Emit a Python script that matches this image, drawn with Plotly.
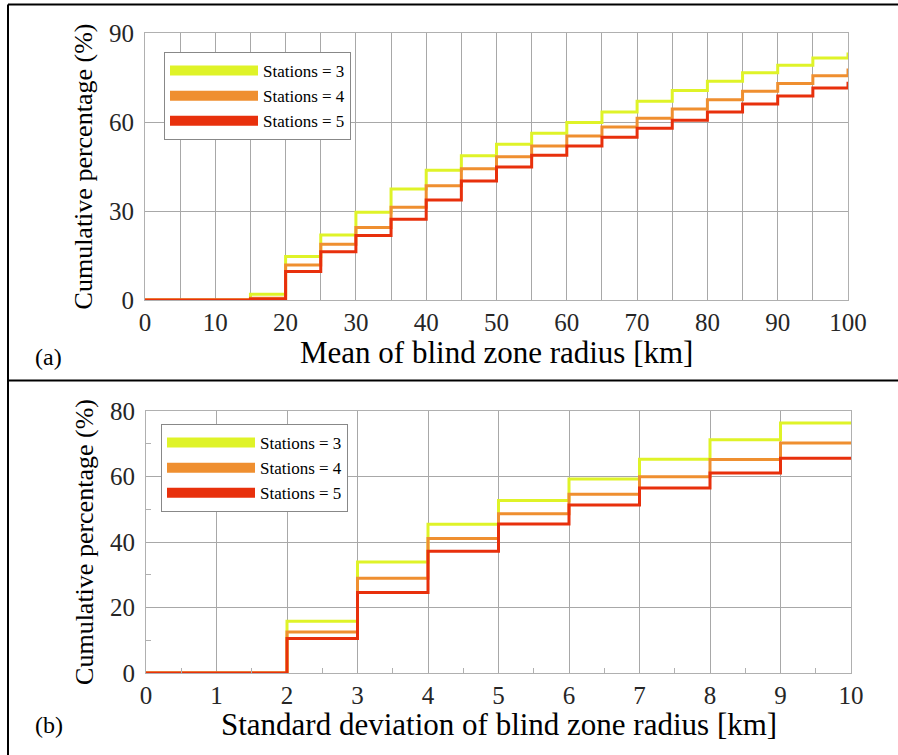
import plotly.graph_objects as go

# ---- data ----
mean_x = [0, 5, 10, 15, 20, 25, 30, 35, 40, 45, 50, 55, 60, 65, 70, 75, 80, 85, 90, 95, 100]
mean_s3 = [0, 0, 0, 1.9, 14.7, 21.9, 29.6, 37.4, 43.7, 48.6, 52.5, 56.2, 59.8, 63.4, 67.0, 70.6, 73.7, 76.6, 79.1, 81.6, 83.4]
mean_s4 = [0, 0, 0, 0.6, 11.8, 18.8, 24.4, 31.3, 38.5, 44.2, 48.3, 51.9, 55.3, 58.3, 61.3, 64.4, 67.5, 70.4, 73.0, 75.6, 78.0]
mean_s5 = [0, 0, 0, 0.3, 9.6, 16.3, 21.7, 27.2, 33.7, 40.1, 44.8, 48.8, 51.9, 54.9, 57.9, 60.6, 63.4, 66.1, 68.8, 71.5, 73.6]

std_x = [0, 1, 2, 3, 4, 5, 6, 7, 8, 9, 10]
std_s3 = [0, 0, 15.8, 33.9, 45.4, 52.7, 59.2, 65.3, 71.2, 76.3, 76.3]
std_s4 = [0, 0, 12.5, 28.9, 41.1, 48.6, 54.6, 59.9, 65.2, 70.2, 70.2]
std_s5 = [0, 0, 10.5, 24.6, 37.2, 45.5, 51.3, 56.5, 61.1, 65.6, 65.6]

names = ["Stations = 3", "Stations = 4", "Stations = 5"]
colors = ["#dff328", "#ef8f30", "#e8300c"]
xtitle_a = "Mean of blind zone radius [km]"
xtitle_b = "Standard deviation of blind zone radius [km]"
ytitle = "Cumulative percentage (%)"

W, H = 898, 755
FONT = "'Liberation Serif', 'DejaVu Serif', serif"

fig = go.Figure()

for ys, nm, c in zip([mean_s3, mean_s4, mean_s5], names, colors):
    fig.add_trace(go.Scatter(x=mean_x, y=ys, mode="lines", name=nm, showlegend=False,
                             line=dict(color=c, width=3, shape="hv"),
                             xaxis="x", yaxis="y"))
for ys, nm, c in zip([std_s3, std_s4, std_s5], names, colors):
    fig.add_trace(go.Scatter(x=std_x, y=ys, mode="lines", name=nm, showlegend=False,
                             line=dict(color=c, width=3, shape="hv"),
                             xaxis="x2", yaxis="y2"))
# legend entries (wide swatches)
for lg, xa, ya in [("legend", "x", "y"), ("legend2", "x2", "y2")]:
    for nm, c in zip(names, colors):
        fig.add_trace(go.Scatter(x=[None], y=[None], mode="lines", name=nm,
                                 line=dict(color=c, width=16),
                                 xaxis=xa, yaxis=ya, legend=lg))

grid_col = "#a8a8a8"
axis_col = "#b0b0b0"
tick_font = dict(family=FONT, size=25, color="#262626")

common = dict(showline=True, linecolor=axis_col, linewidth=1, mirror=True,
              showgrid=True, gridcolor=grid_col, gridwidth=1, zeroline=False,
              ticks="", tickfont=tick_font, automargin=False)

leg_common = dict(xanchor="left", yanchor="top", bgcolor="white",
                  bordercolor="#888888", borderwidth=1,
                  font=dict(family=FONT, size=17, color="black"),
                  itemwidth=88, tracegroupgap=0)

fig.update_layout(
    width=W, height=H,
    margin=dict(l=0, r=0, t=0, b=0, pad=0, autoexpand=False),
    paper_bgcolor="white", plot_bgcolor="white",
    font=dict(family=FONT, color="black"),
    xaxis=dict(common, domain=[145 / W, 848 / W], range=[0, 100], dtick=10, anchor="y",
               ticklabelstandoff=0,
               minor=dict(dtick=5, showgrid=True, gridcolor=grid_col, gridwidth=1)),
    yaxis=dict(common, domain=[1 - 300 / H, 1 - 33 / H], range=[0, 90], dtick=30, anchor="x",
               ticklabelstandoff=5,
               title=dict(text=ytitle, font=dict(size=26, family=FONT), standoff=8)),
    xaxis2=dict(common, domain=[146 / W, 851 / W], range=[0, 10], dtick=1, anchor="y2",
                ticklabelstandoff=0,
                minor=dict(dtick=0.5, ticks="inside", ticklen=5, tickcolor=axis_col, showgrid=False)),
    yaxis2=dict(common, domain=[1 - 673 / H, 1 - 411 / H], range=[0, 80], dtick=20, anchor="x2",
                ticklabelstandoff=5,
                minor=dict(dtick=10, ticks="inside", ticklen=5, tickcolor=axis_col, showgrid=False),
                title=dict(text=ytitle, font=dict(size=26, family=FONT), standoff=8)),
    legend=dict(leg_common, x=164 / W, y=1 - 52 / H),
    legend2=dict(leg_common, x=161 / W, y=1 - 424 / H),
    showlegend=True,
)

# x-axis titles
fig.add_annotation(text=xtitle_a, xref="x domain", yref="paper", x=0.5, y=1 - 352 / H,
                   xanchor="center", yanchor="middle", showarrow=False,
                   font=dict(family=FONT, size=31, color="black"))
fig.add_annotation(text=xtitle_b, xref="x2 domain", yref="paper", x=0.5, y=1 - 724 / H,
                   xanchor="center", yanchor="middle", showarrow=False,
                   font=dict(family=FONT, size=31, color="black"))

# figure frame lines
frame = dict(color="black", width=2)
fig.add_shape(type="line", xref="paper", yref="paper", x0=8 / W, x1=1, y0=1 - 4.5 / H, y1=1 - 4.5 / H, line=frame)
fig.add_shape(type="line", xref="paper", yref="paper", x0=8 / W, x1=8 / W, y0=0, y1=1 - 4.5 / H, line=frame)
fig.add_shape(type="line", xref="paper", yref="paper", x0=8 / W, x1=1, y0=1 - 380.5 / H, y1=1 - 380.5 / H, line=frame)

fig.add_annotation(text="(a)", xref="paper", yref="paper", x=33 / W, y=1 - 357 / H,
                   showarrow=False, font=dict(family=FONT, size=24, color="black"))
fig.add_annotation(text="(b)", xref="paper", yref="paper", x=33 / W, y=1 - 740 / H,
                   showarrow=False, font=dict(family=FONT, size=24, color="black"))

fig.write_html("out.html")
